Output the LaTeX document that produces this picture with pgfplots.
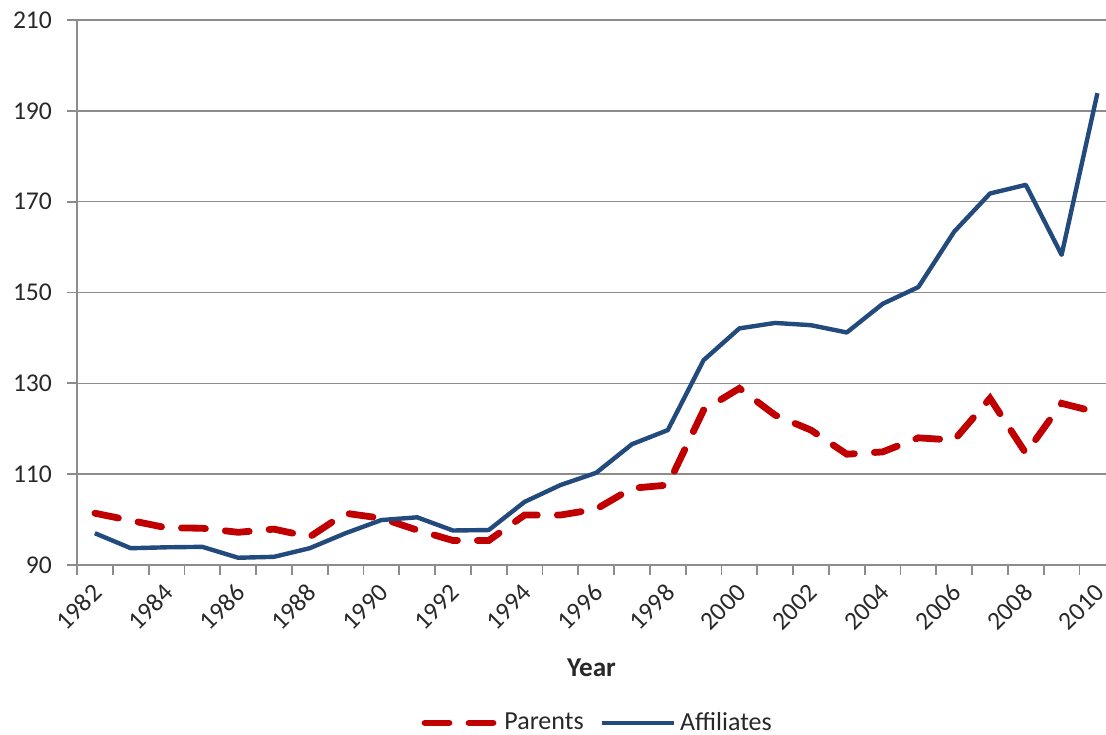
\documentclass[border=0pt]{standalone}
\usepackage{fontspec}
\setmainfont{Carlito}
\usepackage{pgfplots}
\pgfplotsset{compat=1.18}
\definecolor{parred}{RGB}{192,0,0}
\definecolor{affblue}{RGB}{35,74,125}
\definecolor{gridgray}{RGB}{140,140,140}
\definecolor{txt}{RGB}{40,40,40}
\begin{document}
\begin{tikzpicture}
\begin{axis}[
  scale only axis, width=514.5pt, height=272.5pt,
  xmin=1981.5, xmax=2010.24, ymin=90, ymax=210,
  axis x line*=bottom, axis y line*=left,
  axis line style={gridgray, line width=0.9pt},
  ytick={90,110,...,210},
  ymajorgrids, grid style={gridgray, line width=0.8pt},
  xtick={1982,1984,...,2010},
  minor xtick={1981.5,1982.5,...,2009.5},
  major x tick style={draw=none},
  minor x tick style={gridgray, line width=0.9pt},
  major y tick style={gridgray, line width=0.9pt},
  tick align=outside,
  major tick length=5pt, minor tick length=5pt,
  /pgf/number format/assume math mode=true,
  /pgf/number format/1000 sep={},
  tick label style={font=\fontsize{12.8}{15}\selectfont, text=txt},
  xticklabel style={xshift=2pt, yshift=-6pt, rotate=45, anchor=east, inner sep=1pt},
  yticklabel style={xshift=-4pt},
  xlabel={\textbf{Year}},
  xlabel style={font=\fontsize{13.6}{16}\selectfont, text=txt, yshift=-8.5pt},
  legend style={at={(0.507,-0.255)}, anchor=north, draw=none, fill=none,
    font=\fontsize{13}{15}\selectfont, text=txt,
    legend columns=2, /tikz/every even column/.append style={column sep=6pt}},
  legend image code/.code={\draw[#1] (0pt,0pt) -- (36pt,0pt);},
  clip mode=individual,
]
\addplot[parred, line width=3.4pt, dash pattern=on 12pt off 10pt, line cap=round] coordinates {
(1982,101.4) (1983,99.8) (1984,98.2) (1985,98.1) (1986,97.2) (1987,97.9)
(1988,96.2) (1989,101.4) (1990,100.3) (1991,97.7) (1992,95.4) (1993,95.4)
(1994,101.0) (1995,101.0) (1996,102.3) (1997,106.9) (1998,107.6) (1999,124.1)
(2000,128.9) (2001,123.0) (2002,119.7) (2003,114.4) (2004,114.9) (2005,118.0)
(2006,117.5) (2007,126.7) (2008,114.6) (2009,125.6) (2010,123.6)
};
\addlegendentry{Parents}
\addplot[affblue, line width=2.2pt, line join=round] coordinates {
(1982,97.0) (1983,93.7) (1984,93.9) (1985,94.0) (1986,91.6) (1987,91.8)
(1988,93.7) (1989,97.0) (1990,99.9) (1991,100.5) (1992,97.6) (1993,97.7)
(1994,103.9) (1995,107.6) (1996,110.3) (1997,116.6) (1998,119.7) (1999,135.1)
(2000,142.1) (2001,143.3) (2002,142.8) (2003,141.2) (2004,147.5) (2005,151.2)
(2006,163.4) (2007,171.8) (2008,173.7) (2009,158.3) (2010,193.9)
};
\addlegendentry{Affiliates}
\end{axis}
\pgfresetboundingbox
\path ([shift={(-38.5pt,-84.5pt)}]current axis.south west) rectangle ([shift={(0pt,10pt)}]current axis.north east);
\end{tikzpicture}
\end{document}
